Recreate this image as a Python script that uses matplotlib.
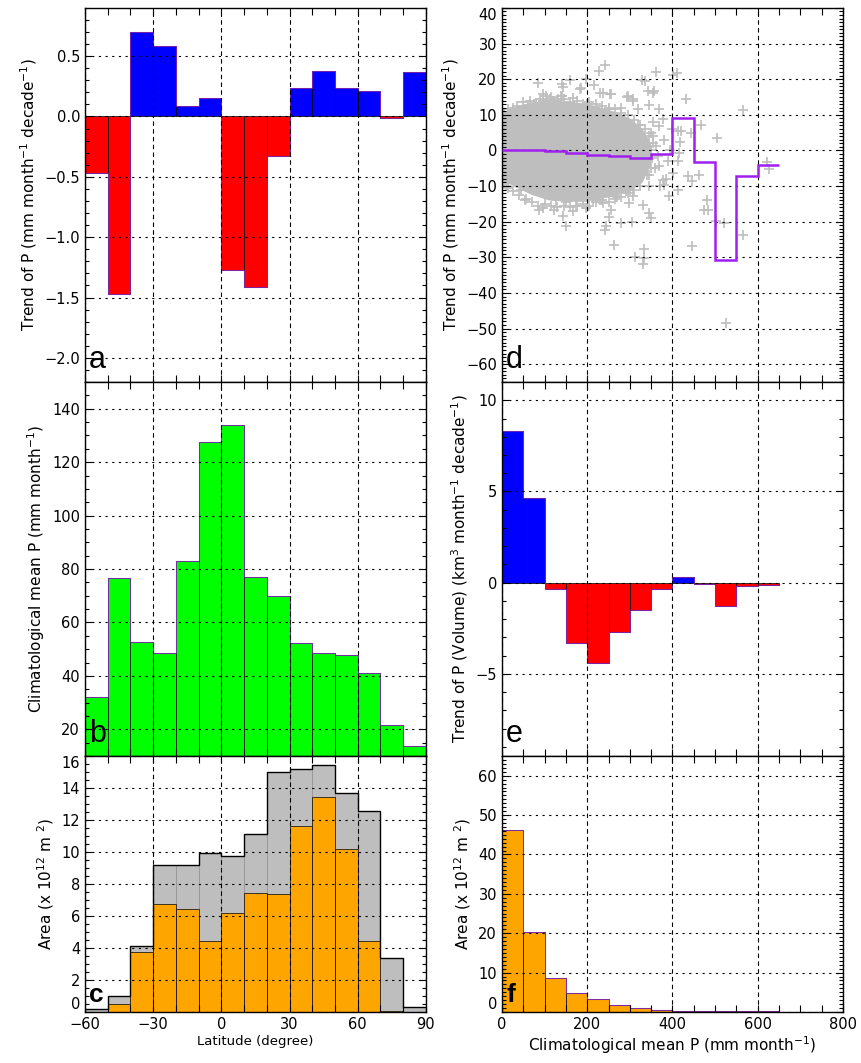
import matplotlib
matplotlib.use("Agg")
import matplotlib.pyplot as plt
import matplotlib.transforms as mtransforms
import numpy as np
from matplotlib.ticker import MultipleLocator, FuncFormatter

plt.rcParams['font.family'] = ['DejaVu Sans']
plt.rcParams['axes.linewidth'] = 1.0

# ---- data ----
lat_edges = np.arange(-60, 91, 10)
# a: trend of P by latitude band
lat_trend = [-0.47, -1.47, 0.70, 0.58, 0.09, 0.15, -1.27, -1.41, -0.33,
             0.24, 0.38, 0.24, 0.21, -0.01, 0.37]
# b: climatological mean P by latitude band
lat_clim = [32.1, 76.8, 52.5, 48.4, 83.0, 127.4, 133.9, 76.9, 69.8,
            52.4, 48.5, 48.0, 41.0, 21.6, 13.8]
# c: total area and area of trend points
lat_area_all = [0.17, 0.98, 4.10, 9.17, 9.17, 9.92, 9.75, 11.13, 14.98,
                15.19, 15.44, 13.69, 12.54, 3.38, 0.33]
lat_area_sub = [0.0, 0.50, 3.75, 6.75, 6.44, 4.46, 6.20, 7.46, 7.40,
                11.63, 13.44, 10.20, 4.46, 0.06, 0.0]

p_edges = np.arange(0, 651, 50)
# d: mean trend per climatological P bin
p_trend = [0.2, 0.2, -0.2, -0.75, -1.3, -1.7, -2.2, -1.1, 9.1, -3.3,
           -30.8, -7.2, -4.2]
# e: trend of P volume per bin
p_volume = [8.33, 4.65, -0.37, -3.30, -4.40, -2.71, -1.52, -0.33, 0.31,
            -0.09, -1.26, -0.16, -0.13]
# f: area per bin
p_area = [46.2, 20.2, 8.7, 4.75, 3.2, 1.7, 1.0, 0.5, 0.3, 0.25, 0.2, 0.2, 0.15]

# d: dense core of the grid-point cloud (outline) and scattered points
cloud_x = [0, 10, 40, 80, 120, 170, 220, 260, 300, 330, 350,
           350, 330, 300, 260, 210, 160, 110, 70, 35, 10, 0]
cloud_y = [9.5, 11, 12.5, 13.5, 14, 13.5, 12.5, 11, 9, 6, 2,
           -4, -9, -11.5, -13, -14, -14.5, -14, -12.5, -10.5, -9, -8]
pts_x = [242, 227, 84, 159, 198, 215, 186, 143, 139, 166, 237, 256, 293, 307,
         329, 342, 356, 362, 346, 369, 401, 410, 432, 467, 504, 565, 412, 421,
         444, 418, 412, 401, 436, 463, 447, 412, 393, 482, 475, 484, 502, 521,
         447, 565, 526, 621, 626, 334, 330, 334, 311, 262, 241, 245, 280, 306,
         350, 346, 330, 252, 256, 151, 143, 123, 88, 97, 198, 166, 45, 57, 213,
         381, 377, 369, 366, 362, 354, 369, 377, 319, 280, 37, 61, 96, 104, 131,
         170, 205, 307, 291, 268, 299, 237, 174, 127, 10, 315, 346, 330, 346,
         350, 360, 380, 390, 370, 355, 345, 385, 395, 398, 416, 140, 183, 97,
         113, 140, 335, 355, 296, 308, 230, 253, 70, 47, 20, 5, 15, 25, 150, 190,
         230, 270, 300, 120, 60, 80, 200, 250, 320, 290, 5, 15,
         5, 15, 25, 35, 50, 65, 75, 90, 105, 115, 130, 145, 160, 175, 190, 205,
         220, 235, 250, 265, 280, 295, 310, 325, 335, 345,
         5, 15, 25, 40, 55, 70, 85, 100, 115, 130, 145, 160, 175, 190, 205, 220,
         235, 250, 265, 280, 295, 310, 325, 340, 350,
         350, 355, 352, 340]
pts_y = [24.0, 22.3, 19.0, 19.7, 20.0, 18.3, 17.6, 17.9, 15.3, 14.8, 16.2,
         15.9, 15.1, 14.3, 19.7, 16.7, 16.7, 22.0, 12.7, 11.5, 21.1, 21.6, 14.3,
         7.0, 3.6, 11.3, 5.4, 5.4, 5.0, 2.3, -3.0, -6.3, -7.2, -7.0, -8.6, -11.0,
         -12.8, -13.8, -16.6, -16.8, -19.9, -20.3, -26.9, -23.6, -48.3, -3.3,
         -5.3, -30.2, -32.0, -27.8, -29.9, -26.6, -22.2, -21.3, -20.5, -20.1,
         -18.9, -17.5, -15.2, -18.7, -16.6, -21.3, -18.5, -16.6, -16.6, -16.1,
         -16.1, -17.1, -11.0, -13.6, -13.8, -9.6, -8.2, -4.4, -1.6, 1.2, 4.0,
         6.8, 8.7, 11.5, 12.0, 9.7, 12.0, 13.9, 15.3, 14.3, 12.5, 11.7, -12.8,
         -11.0, -12.8, -14.7, -14.7, -15.6, -13.8, -10.0, -8.2, -10.0, -6.3,
         -2.5, 5.0, -5.0, 3.0, -3.0, -10.0, 8.0, -7.0, -8.0, 0.0, 6.0, -0.6,
         18.5, 17.3, 15.7, 14.3, 15.2, 19.5, 16.2, 15.3, 13.9, 16.2, 15.7, 11.7,
         9.6, 10.5, 9.0, -8.5, 11.0, -14.5, -14.2, -14.0, -13.0, -11.0, 13.8,
         12.8, 13.2, 13.0, 11.5, 7.0, -11.5, -7.5, -9.0,
         10.5, 11.5, 12.0, 12.5, 13.5, 14.0, 13.0, 14.5, 14.0, 15.0, 14.0, 14.5,
         13.5, 14.0, 13.0, 13.5, 13.0, 12.5, 12.0, 11.5, 10.5, 10.0, 8.5, 7.0,
         6.0, 4.0,
         -9.0, -10.5, -11.5, -12.5, -14.0, -14.5, -15.5, -15.0, -15.5, -16.0,
         -15.5, -16.0, -15.5, -15.0, -15.5, -14.5, -14.0, -14.5, -13.5, -13.0,
         -12.0, -11.0, -10.0, -7.0, -5.0,
         0.0, 2.0, -2.0, -1.0]

BLUE, RED, GREEN, ORANGE, GREY, PURPLE = '#0000ff', '#ff0000', '#00ff00', '#ffa500', '#bebebe', '#a020f0'
TICK_FS = 10.5

fig = plt.figure(figsize=(8.61, 10.63), dpi=100)
L, R, W = 0.0987, 0.583, 0.396
rows = [(0.6406, 0.352), (0.2888, 0.3518), (0.048, 0.2408)]
axs = [fig.add_axes([L, b, W, h]) for b, h in rows]
axs += [fig.add_axes([R, b, W, h]) for b, h in rows]
ax_a, ax_b, ax_c, ax_d, ax_e, ax_f = axs


def style(ax, xmaj, xmin, yticks, ymin, ylim, fmt='{:g}'):
    ax.xaxis.set_major_locator(MultipleLocator(xmaj))
    ax.xaxis.set_minor_locator(MultipleLocator(xmin))
    ax.set_yticks(yticks)
    ax.yaxis.set_minor_locator(MultipleLocator(ymin))
    ax.set_ylim(*ylim)
    lo, hi = ylim
    # labels sitting on the frame edge are drawn separately, nudged inside
    edge = [v for v in yticks if np.isclose(v, lo) or np.isclose(v, hi)]
    ax.yaxis.set_major_formatter(FuncFormatter(
        lambda v, p: '' if any(np.isclose(v, e) for e in edge) else fmt.format(v).replace('-', '\u2212')))
    tr = mtransforms.blended_transform_factory(ax.transAxes, ax.transData)
    for e in edge:
        ax.text(-0.014, e, fmt.format(e).replace('-', '\u2212'), transform=tr,
                ha='right', va='bottom' if np.isclose(e, lo) else 'top', fontsize=TICK_FS)
    ax.tick_params(which='both', direction='in', top=True, right=True, labelsize=TICK_FS)
    ax.tick_params(which='major', length=5, width=0.8)
    ax.tick_params(which='minor', length=3, width=0.8)
    ax.tick_params(axis='x', which='minor', length=5)
    ax.set_axisbelow(False)
    ax.grid(True, axis='x', which='major', color='black', ls=(0, (4, 3)), lw=0.8)
    ax.grid(True, axis='y', which='major', color='black', ls=(0, (2, 4)), lw=0.8)


def letter(ax, s, bold=False, size=22):
    ax.text(0.012, 0.02, s, transform=ax.transAxes, fontsize=size,
            family='Liberation Sans', fontweight='bold' if bold else 'normal',
            ha='left', va='bottom', zorder=10)


# a
cols = [BLUE if v >= 0 else RED for v in lat_trend]
ax_a.bar(lat_edges[:-1], lat_trend, width=10, align='edge', color=cols, edgecolor='black', lw=0.5)
ax_a.stairs(lat_trend, lat_edges, baseline=None, color=PURPLE, lw=0.8, alpha=0.6)
ax_a.set_xlim(-60, 90)
style(ax_a, 30, 10, [-2.0, -1.5, -1.0, -0.5, 0.0, 0.5], 0.1, (-2.2, 0.9), fmt='{:.1f}')
ax_a.set_ylabel('Trend of P (mm month$^{-1}$ decade$^{-1}$)', fontsize=11)
letter(ax_a, 'a')

# b
ax_b.bar(lat_edges[:-1], lat_clim, width=10, align='edge', color=GREEN, edgecolor='black', lw=0.5)
ax_b.stairs(lat_clim, lat_edges, baseline=None, color=PURPLE, lw=0.8, alpha=0.6)
ax_b.set_xlim(-60, 90)
style(ax_b, 30, 10, [20, 40, 60, 80, 100, 120, 140], 5, (10, 150))
ax_b.set_ylabel('Climatological mean P (mm month$^{-1}$)', fontsize=11)
letter(ax_b, 'b')

# c
ax_c.bar(lat_edges[:-1], lat_area_all, width=10, align='edge', color=GREY, edgecolor='#909090', lw=0.5)
ax_c.bar(lat_edges[:-1], lat_area_sub, width=10, align='edge', color=ORANGE, edgecolor='black', lw=0.5)
ax_c.stairs(lat_area_all, lat_edges, baseline=None, color='black', lw=1.0)
ax_c.set_xlim(-60, 90)
style(ax_c, 30, 10, [0, 2, 4, 6, 8, 10, 12, 14, 16], 0.5, (0, 16))
ax_c.set_ylabel('Area (x 10$^{12}$ m $^{2}$)', fontsize=11)
ax_c.set_xlabel('Latitude (degree)', fontsize=9.5, labelpad=2)
letter(ax_c, 'c', bold=True, size=19)

for ax in (ax_a, ax_b):
    ax.tick_params(labelbottom=False)

# d
ax_d.fill(cloud_x, cloud_y, color=GREY, lw=0, zorder=1)
ax_d.plot(pts_x, pts_y, '+', color=GREY, ms=6.5, mew=1.2, zorder=1)
ax_d.stairs(p_trend, p_edges, baseline=None, color=PURPLE, lw=1.8, zorder=5)
ax_d.set_xlim(0, 800)
style(ax_d, 200, 50, [-60, -50, -40, -30, -20, -10, 0, 10, 20, 30, 40], 1, (-65, 40))
ax_d.set_ylabel('Trend of P (mm month$^{-1}$ decade$^{-1}$)', fontsize=11)
letter(ax_d, 'd')

# e
cols = [BLUE if v >= 0 else RED for v in p_volume]
ax_e.bar(p_edges[:-1], p_volume, width=50, align='edge', color=cols, edgecolor='black', lw=0.5)
ax_e.stairs(p_volume, p_edges, baseline=None, color=PURPLE, lw=0.8, alpha=0.6)
ax_e.set_xlim(0, 800)
style(ax_e, 200, 50, [-5, 0, 5, 10], 1, (-9.5, 11))
ax_e.set_ylabel('Trend of P (Volume) (km$^3$ month$^{-1}$ decade$^{-1}$)', fontsize=11)
letter(ax_e, 'e')

# f
ax_f.bar(p_edges[:-1], p_area, width=50, align='edge', color=ORANGE, edgecolor='black', lw=0.5)
ax_f.stairs(p_area, p_edges, baseline=None, color=PURPLE, lw=0.8, alpha=0.6)
ax_f.set_xlim(0, 800)
style(ax_f, 200, 50, [0, 10, 20, 30, 40, 50, 60], 1, (0, 65))
ax_f.set_ylabel('Area (x 10$^{12}$ m $^{2}$)', fontsize=11)
ax_f.set_xlabel('Climatological mean P (mm month$^{-1}$)', fontsize=11, labelpad=2)
letter(ax_f, 'f', bold=True, size=19)

for ax in (ax_d, ax_e):
    ax.tick_params(labelbottom=False)

fig.savefig('out.png', dpi=100)
